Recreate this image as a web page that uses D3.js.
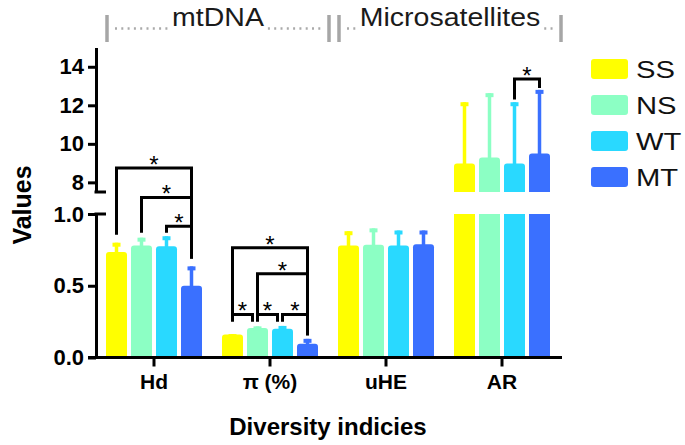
<!DOCTYPE html>
<html><head><meta charset="utf-8">
<script src="https://cdn.jsdelivr.net/npm/d3@7"></script>
<style>body{margin:0;background:#fff}svg{display:block;font-family:"Liberation Sans",Arial,sans-serif}</style>
</head><body><svg id="c" width="685" height="445"></svg>
<script>
// ---- data ----
const categories = ["Hd", "π (%)", "uHE", "AR"];
const series = ["SS", "NS", "WT", "MT"];
const colors = ["#FFFF00", "#8CFFC4", "#29D9FF", "#3A70FF"];
const ssMean = [0.735, 0.16, 0.78, 8.98],  ssErr = [0.065, 0.003, 0.10, 3.18];
const nsMean = [0.78, 0.205, 0.785, 9.29], nsErr = [0.055, 0.012, 0.115, 3.34];
const wtMean = [0.775, 0.20, 0.78, 8.98],  wtErr = [0.07, 0.02, 0.105, 3.18];
const mtMean = [0.50, 0.095, 0.79, 9.5],   mtErr = [0.135, 0.035, 0.095, 3.3];
const brokenCategory = "AR";
const lowDomain = [0, 1], highDomain = [7.5, 15];
const lowTicks = [0, 0.5, 1.0], highTicks = [8, 10, 12, 14];
const groups = [
  {label: "mtDNA", from: "Hd", to: "π (%)"},
  {label: "Microsatellites", from: "uHE", to: "AR"}
];
const brackets = [
  {cat: "Hd", a: "SS", b: "MT", y: 1.32, ya: 0.855, yb: 0.69},
  {cat: "Hd", a: "NS", b: "MT", y: 1.115, ya: 0.87, yb: 0.69},
  {cat: "Hd", a: "WT", b: "MT", y: 0.915, ya: 0.87, yb: 0.69},
  {cat: "π (%)", a: "SS", b: "MT", y: 0.765, ya: 0.30, yb: 0.155},
  {cat: "π (%)", a: "NS", b: "MT", y: 0.583, ya: 0.30, yb: 0.155},
  {cat: "π (%)", a: "SS", b: "NS", y: 0.30, ya: 0.25, yb: 0.25},
  {cat: "π (%)", a: "NS", b: "WT", y: 0.30, ya: 0.25, yb: 0.25},
  {cat: "π (%)", a: "WT", b: "MT", y: 0.30, ya: 0.25, yb: 0.155},
  {cat: "AR", a: "WT", b: "MT", y: 13.37, ya: 12.3, yb: 12.9}
];
const means = [ssMean, nsMean, wtMean, mtMean];
const errs = [ssErr, nsErr, wtErr, mtErr];

// ---- scales ----
const svg = d3.select("#c");
const x = d3.scalePoint().domain(categories).range([154, 502]);
const inner = d3.scaleBand().domain(series).range([-50, 50]).paddingInner(0.16).paddingOuter(0.08);
const yLow = d3.scaleLinear().domain(lowDomain).range([357.5, 214]);
const yHigh = d3.scaleLinear().domain(highDomain).range([192, 47.5]);
const color = d3.scaleOrdinal().domain(series).range(colors);
const axisX = 96;

const rows = [];
categories.forEach((c, ci) => series.forEach((s, si) => rows.push({c, s, v: means[si][ci], e: errs[si][ci]})));

function topRounded(x0, w, yt, yb, r) {
  return `M${x0},${yb}V${yt + r}Q${x0},${yt} ${x0 + r},${yt}H${x0 + w - r}Q${x0 + w},${yt} ${x0 + w},${yt + r}V${yb}Z`;
}

const gBars = svg.append("g");
rows.forEach(d => {
  const x0 = x(d.c) + inner(d.s), w = inner.bandwidth(), col = color(d.s);
  const broken = d.c === brokenCategory;
  const ys = broken ? yHigh : yLow;
  if (broken) {
    gBars.append("rect").attr("x", x0).attr("y", yLow(lowDomain[1])).attr("width", w)
      .attr("height", yLow(0) - yLow(lowDomain[1])).attr("fill", col);
    gBars.append("path").attr("d", topRounded(x0, w, yHigh(d.v), yHigh(highDomain[0]), 3)).attr("fill", col);
  } else {
    gBars.append("path").attr("d", topRounded(x0, w, yLow(d.v), yLow(0), 3)).attr("fill", col);
  }
  const cx = x0 + w / 2;
  gBars.append("line").attr("x1", cx).attr("x2", cx).attr("y1", ys(d.v) + 1).attr("y2", ys(d.v + d.e))
    .attr("stroke", col).attr("stroke-width", 3.5);
  gBars.append("rect").attr("x", cx - 4).attr("y", ys(d.v + d.e)).attr("width", 8).attr("height", 4).attr("fill", col);
});

// ---- axes ----
const lowAxis = svg.append("g").attr("transform", `translate(${axisX},0)`)
  .call(d3.axisLeft(yLow).tickValues(lowTicks).tickFormat(d3.format(".1f")).tickSize(8).tickSizeOuter(0).tickPadding(4));
const highAxis = svg.append("g").attr("transform", `translate(${axisX},0)`)
  .call(d3.axisLeft(yHigh).tickValues(highTicks).tickFormat(d3.format("d")).tickSize(8).tickSizeOuter(0).tickPadding(4));
[lowAxis, highAxis].forEach(g => {
  g.select(".domain").attr("stroke", "#000").attr("stroke-width", 3);
  g.selectAll(".tick line").attr("stroke", "#000").attr("stroke-width", 3);
  g.selectAll(".tick text").attr("font-size", 22).attr("font-weight", "bold").attr("fill", "#000")
    .attr("font-family", "Liberation Sans, Arial, sans-serif");
});
// break caps
[yLow(lowDomain[1]), yHigh(highDomain[0])].forEach(yy => {
  svg.append("line").attr("x1", axisX - 1.5).attr("x2", axisX + 10).attr("y1", yy).attr("y2", yy)
    .attr("stroke", "#000").attr("stroke-width", 3);
});
// x axis
svg.append("line").attr("x1", 88).attr("x2", 562).attr("y1", yLow(0)).attr("y2", yLow(0))
  .attr("stroke", "#000").attr("stroke-width", 3);
categories.forEach(c => {
  svg.append("line").attr("x1", x(c)).attr("x2", x(c)).attr("y1", yLow(0)).attr("y2", yLow(0) + 9)
    .attr("stroke", "#000").attr("stroke-width", 3);
  svg.append("text").attr("x", x(c)).attr("y", 389).attr("text-anchor", "middle")
    .attr("font-size", 21).attr("font-weight", "bold").text(c);
});
svg.append("text").attr("x", 328).attr("y", 435).attr("text-anchor", "middle")
  .attr("font-size", 24).attr("font-weight", "bold").text("Diversity indicies");
svg.append("text").attr("transform", "translate(31,205) rotate(-90)").attr("text-anchor", "middle")
  .attr("font-size", 25).attr("font-weight", "bold").text("Values");

// ---- brackets ----
const gBr = svg.append("g");
brackets.forEach(b => {
  const ys = b.cat === brokenCategory ? yHigh : yLow;
  const xa = x(b.cat) + inner(b.a) + inner.bandwidth() / 2;
  let xb = x(b.cat) + inner(b.b) + inner.bandwidth() / 2;
  if (brackets.some(o => o !== b && o.cat === b.cat && o.y === b.y && o.a === b.b)) xb -= 5;
  const yl = ys(b.y);
  gBr.append("path").attr("d", `M${xa},${ys(b.ya)}V${yl}H${xb}V${ys(b.yb)}`)
    .attr("fill", "none").attr("stroke", "#000").attr("stroke-width", 3);
  gBr.append("text").attr("x", (xa + xb) / 2).attr("y", yl + 5).attr("text-anchor", "middle")
    .attr("font-size", 24).text("*");
});

// ---- group headers ----
groups.forEach(g => {
  const l = x(g.from) - 47, r = x(g.to) + 59, cx = (l + r) / 2;
  [l, r].forEach(xx => svg.append("line").attr("x1", xx).attr("x2", xx).attr("y1", 15).attr("y2", 42)
    .attr("stroke", "#a6a6a6").attr("stroke-width", 3.5));
  const t = svg.append("text").attr("transform", `translate(${cx},26) scale(1.14,1)`).attr("text-anchor", "middle")
    .attr("font-size", 25).attr("fill", "#1a1a1a").text(g.label);
  const tw = t.node().getComputedTextLength() * 1.14;
  [[l + 8, cx - tw / 2 - 4], [cx + tw / 2 + 4, r - 6]].forEach(([a, b]) => {
    svg.append("line").attr("x1", a).attr("x2", b).attr("y1", 28.5).attr("y2", 28.5)
      .attr("stroke", "#aaa").attr("stroke-width", 2.5).attr("stroke-dasharray", "2,4.3");
  });
});

// ---- legend ----
series.forEach((s, i) => {
  const yy = 59 + i * 36;
  svg.append("rect").attr("x", 591).attr("y", yy).attr("width", 37).attr("height", 20).attr("rx", 3)
    .attr("fill", color(s));
  svg.append("text").attr("transform", `translate(636,${yy + 19}) scale(1.27,1)`)
    .attr("font-size", 23).attr("fill", "#111").text(s);
});
</script></body></html>
